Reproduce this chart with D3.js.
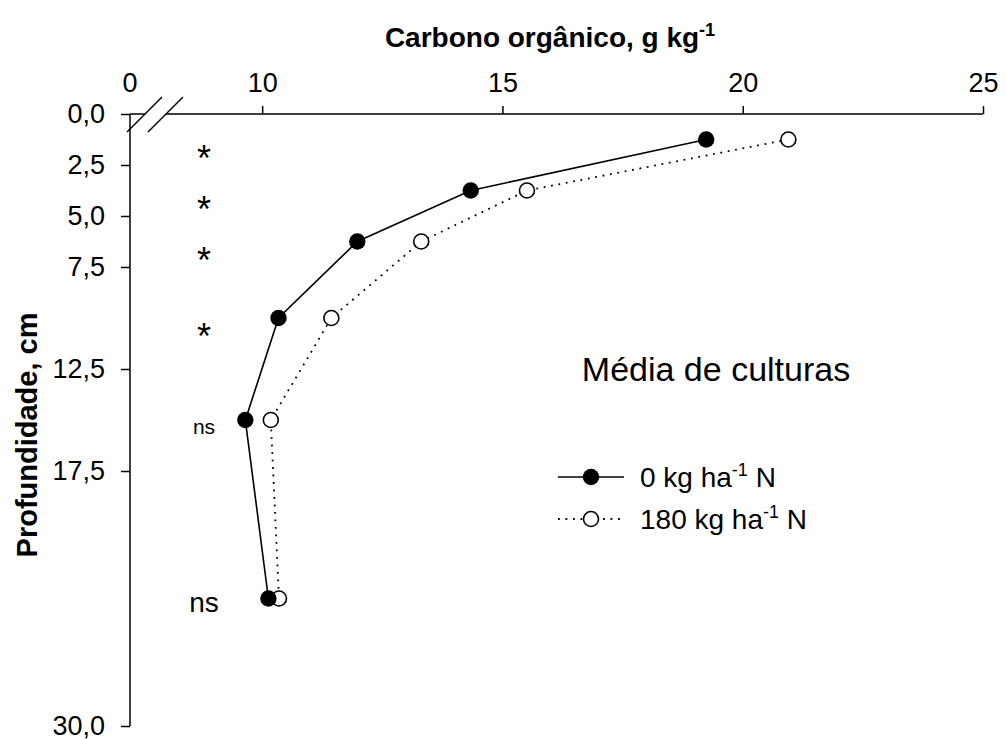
<!DOCTYPE html>
<html>
<head>
<meta charset="utf-8">
<script src="https://cdn.jsdelivr.net/npm/d3@7"></script>
<style>
  body { margin: 0; background: #fff; }
  text { font-family: Arial, "Liberation Sans", sans-serif; fill: #000; }
</style>
</head>
<body>
<div class="canvas"></div>
<script>
const depth = [1.25, 3.75, 6.25, 10, 15, 23.75];
const carbon0N = [19.24, 14.34, 11.98, 10.34, 9.65, 10.13];
const carbon180N = [20.95, 15.51, 13.31, 11.44, 10.18, 10.35];
const signif = ["*", "*", "*", "*", "ns", "ns"];
const xTicks = [10, 15, 20, 25];
const yTicks = [0, 2.5, 5, 7.5, 12.5, 17.5, 30];
const seriesNames = ["0 kg ha", "180 kg ha"];

const width = 1006;
const height = 740;
const margin = { top: 114, right: 23, bottom: 14, left: 130 };
const font = "Arial, 'Liberation Sans', sans-serif";

const svg = d3
  .select(".canvas")
  .append("svg")
  .attr("width", width)
  .attr("height", height);

// x axis is broken: the left edge stands for 0, the scale starts at 7.25
const x = d3
  .scaleLinear()
  .domain([7.25, 25])
  .range([margin.left, width - margin.right]);
const y = d3
  .scaleLinear()
  .domain([0, 30])
  .range([margin.top, height - margin.bottom]);

const ptBR = d3.formatLocale({ decimal: ",", thousands: ".", grouping: [3], currency: ["", ""] });

// y axis
const yAxis = svg
  .append("g")
  .attr("transform", `translate(${margin.left},0)`)
  .call(
    d3.axisLeft(y).tickValues(yTicks).tickSize(9).tickPadding(16).tickFormat(ptBR.format(".1f"))
  );
yAxis.select(".domain").attr("d", `M0,${y(0)}V${y(30)}`).attr("stroke-width", 1.5);
yAxis.selectAll(".tick line").attr("stroke-width", 1.5);
yAxis.selectAll(".tick text").style("font-size", "27px").style("font-family", font);

// x axis (top)
const xAxis = svg
  .append("g")
  .attr("transform", `translate(0,${margin.top})`)
  .call(d3.axisTop(x).tickValues(xTicks).tickSize(8).tickPadding(14));
xAxis.select(".domain").remove();
xAxis.selectAll(".tick line").attr("stroke-width", 1.5);
xAxis.selectAll(".tick text").style("font-size", "27px").style("font-family", font);

xAxis
  .append("text")
  .attr("x", margin.left)
  .attr("y", -22)
  .attr("text-anchor", "middle")
  .style("font-size", "27px")
  .text("0");

const breakL = margin.left + 15;
const breakR = margin.left + 36;
svg
  .append("path")
  .attr("d", `M${margin.left},${margin.top}H${breakL}M${breakR},${margin.top}H${width - margin.right}`)
  .attr("stroke", "#000")
  .attr("stroke-width", 1.5);
[breakL, breakR].forEach((bx) => {
  svg
    .append("line")
    .attr("x1", bx - 18)
    .attr("y1", margin.top + 18)
    .attr("x2", bx + 17)
    .attr("y2", margin.top - 17)
    .attr("stroke", "#000")
    .attr("stroke-width", 1.5);
});

// titles
const title = svg
  .append("text")
  .attr("x", 550)
  .attr("y", 47)
  .attr("text-anchor", "middle")
  .style("font-size", "28px")
  .style("font-weight", "bold");
title.append("tspan").text("Carbono orgânico, g kg");
title.append("tspan").attr("dy", -11).style("font-size", "18px").text("-1");

svg
  .append("text")
  .attr("transform", `translate(37,${(margin.top + height - margin.bottom) / 2 + 15}) rotate(-90)`)
  .attr("text-anchor", "middle")
  .style("font-size", "29px")
  .style("font-weight", "bold")
  .text("Profundidade, cm");

svg
  .append("text")
  .attr("x", 716)
  .attr("y", 381)
  .attr("text-anchor", "middle")
  .style("font-size", "34px")
  .text("Média de culturas");

// lines
const line0 = d3
  .line()
  .x((d, i) => x(carbon0N[i]))
  .y((d) => y(d));
const line180 = d3
  .line()
  .x((d, i) => x(carbon180N[i]))
  .y((d) => y(d));

svg
  .append("path")
  .attr("d", line180(depth))
  .attr("fill", "none")
  .attr("stroke", "#000")
  .attr("stroke-width", 1.8)
  .attr("stroke-dasharray", "1.8,5.7");
svg
  .append("path")
  .attr("d", line0(depth))
  .attr("fill", "none")
  .attr("stroke", "#000")
  .attr("stroke-width", 1.6);

svg
  .selectAll(".pt180")
  .data(depth)
  .enter()
  .append("circle")
  .attr("class", "pt180")
  .attr("cx", (d, i) => x(carbon180N[i]))
  .attr("cy", (d) => y(d))
  .attr("r", 7.5)
  .attr("fill", "#fff")
  .attr("stroke", "#000")
  .attr("stroke-width", 1.6);
svg
  .selectAll(".pt0")
  .data(depth)
  .enter()
  .append("circle")
  .attr("class", "pt0")
  .attr("cx", (d, i) => x(carbon0N[i]))
  .attr("cy", (d) => y(d))
  .attr("r", 8.2)
  .attr("fill", "#000");

// significance marks
svg
  .selectAll(".sig")
  .data(depth)
  .enter()
  .append("text")
  .attr("class", "sig")
  .attr("x", 204)
  .attr("y", (d, i) => (signif[i] === "*" ? y(d) + 31 : y(d) + (i === 4 ? 14 : 13)))
  .attr("text-anchor", "middle")
  .style("font-size", (d, i) => (signif[i] === "*" ? "36px" : i === 4 ? "21px" : "28px"))
  .text((d, i) => signif[i]);

// legend
const legend = svg.append("g").attr("transform", "translate(558,477)");
const legendRow = legend
  .selectAll("g")
  .data(seriesNames)
  .enter()
  .append("g")
  .attr("transform", (d, i) => `translate(0,${i * 42})`);

legendRow
  .append("line")
  .attr("x1", 0)
  .attr("x2", 66)
  .attr("stroke", "#000")
  .attr("stroke-width", (d, i) => (i === 0 ? 1.6 : 1.8))
  .attr("stroke-dasharray", (d, i) => (i === 0 ? null : "1.8,5.7"));
legendRow
  .append("circle")
  .attr("cx", 33)
  .attr("r", (d, i) => (i === 0 ? 8.2 : 7.5))
  .attr("fill", (d, i) => (i === 0 ? "#000" : "#fff"))
  .attr("stroke", "#000")
  .attr("stroke-width", (d, i) => (i === 0 ? 0 : 1.6));

const legendText = legendRow
  .append("text")
  .attr("x", 82)
  .attr("y", 10)
  .style("font-size", "28px");
legendText.append("tspan").text((d) => d);
legendText.append("tspan").attr("dy", -11).style("font-size", "18px").text("-1");
legendText.append("tspan").attr("dy", 11).text(" N");
</script>
</body>
</html>
